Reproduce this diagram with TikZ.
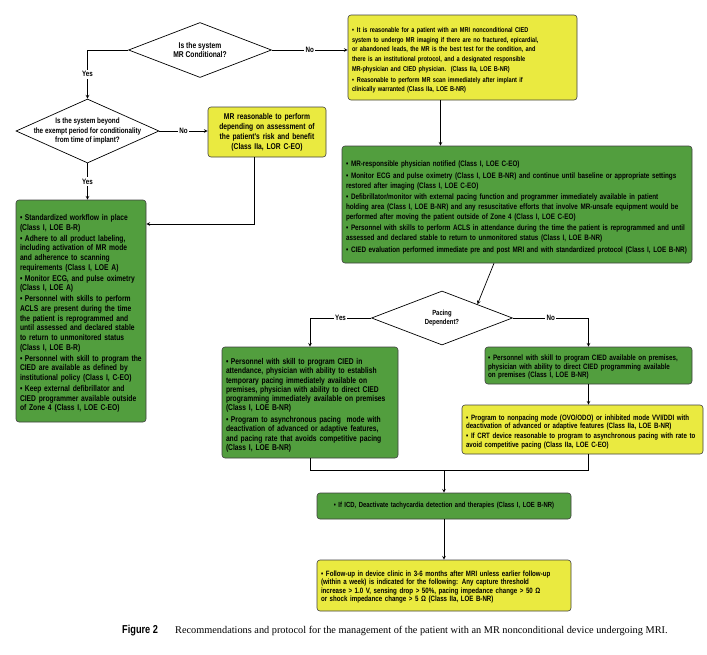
\documentclass[tikz,border=0pt]{standalone}
\usepackage{fontspec}
\setmainfont{Liberation Serif}
\newfontfamily\boxfont{Liberation Sans}[FakeStretch=0.8]
\usetikzlibrary{shapes.geometric}
\definecolor{mrgreen}{RGB}{82,158,62}
\definecolor{mryellow}{RGB}{234,234,64}
\newcommand{\bl}{\par\hangindent=5pt\hangafter=1\noindent\makebox[5pt][l]{\textbullet}}
\newcommand{\bxfont}[3]{\boxfont\bfseries\fontsize{#1}{#2}\selectfont\setlength{\parskip}{#3}\relax}
\tikzset{
  box/.style={draw=black!75, line width=0.6pt, rounded corners=3pt, inner xsep=4pt, inner ysep=2pt,
    align=left, font=\bxfont{8.2}{9.4}{1.4pt}},
  gbox/.style={box, fill=mrgreen},
  ybox/.style={box, fill=mryellow},
  ask/.style={diamond, draw, line width=0.7pt, fill=white, inner sep=0pt},
  asktext/.style={align=center, inner sep=0pt, font=\boxfont\bfseries\fontsize{#1}{9.4}\selectfont},
  lbl/.style={fill=white, inner sep=1.5pt, font=\boxfont\bfseries\fontsize{7.8}{8}\selectfont},
  arr/.style={->, >=stealth, line width=0.7pt}
}
\begin{document}
\begin{tikzpicture}[x=1pt,y=-1pt]
\path[use as bounding box] (0,0) rectangle (707,654);

% decisions
\node[ask, minimum width=143pt, minimum height=55pt,
  label={[asktext=8.4]center:Is the system\\MR Conditional?}] (cond) at (200,50) {};
\node[ask, minimum width=143pt, minimum height=64pt,
  label={[asktext=7.9]center:Is the system beyond\\the exempt period for conditionality\\from time of implant?}] (exempt) at (87.5,131) {};
\node[ask, minimum width=141pt, minimum height=54pt,
  label={[asktext=7.4]center:Pacing\\Dependent?}] (pacing) at (442,318) {};

% recommendation boxes
\node[ybox, text width=221pt, minimum height=85pt, font=\bxfont{7.0}{9.6}{1.4pt}] (noncond) at (462.5,57.5) {%
\bl It is reasonable for a patient with an MRI nonconditional CIED\\
system to undergo MR imaging if there are no fractured, epicardial,\\
or abandoned leads, the MR is the best test for the condition, and\\
there is an institutional protocol, and a designated responsible\\
MR-physician and CIED physician.\ \ (Class IIa, LOE B-NR)
\bl Reasonable to perform MR scan immediately after implant if\\
clinically warranted (Class IIa, LOE B-NR)};

\node[ybox, text width=110pt, minimum height=50pt, align=center, font=\bxfont{8.4}{10}{0pt}] (risk) at (267,132) {%
MR reasonable to perform\\depending on assessment of\\the patient's risk and benefit\\(Class IIa, LOR C-EO)};

\node[gbox, text width=122pt, minimum height=222pt, font=\bxfont{8.4}{9.7}{1.2pt}] (cond yes) at (81,311) {%
\bl Standardized workflow in place\\(Class I, LOE B-R)
\bl Adhere to all product labeling,\\including activation of MR mode\\and adherence to scanning\\requirements (Class I, LOE A)
\bl Monitor ECG, and pulse oximetry\\(Class I, LOE A)
\bl Personnel with skills to perform\\ACLS are present during the time\\the patient is reprogrammed and\\until assessed and declared stable\\to return to unmonitored status\\(Class I, LOE B-R)
\bl Personnel with skill to program the\\CIED are available as defined by\\institutional policy (Class I, C-EO)
\bl Keep external defibrillator and\\CIED programmer available outside\\of Zone 4 (Class I, LOE C-EO)};

\node[gbox, text width=342pt, minimum height=117pt, font=\bxfont{7.9}{9.8}{1.7pt}] (setup) at (517,204.5) {%
\bl MR-responsible physician notified (Class I, LOE C-EO)
\bl Monitor ECG and pulse oximetry (Class I, LOE B-NR) and continue until baseline or appropriate settings\\restored after imaging (Class I, LOE C-EO)
\bl Defibrillator/monitor with external pacing function and programmer immediately available in patient\\holding area (Class I, LOE B-NR) and any resuscitative efforts that involve MR-unsafe equipment would be\\performed after moving the patient outside of Zone 4 (Class I, LOE C-EO)
\bl Personnel with skills to perform ACLS in attendance during the time the patient is reprogrammed and until\\assessed and declared stable to return to unmonitored status (Class I, LOE B-NR)
\bl CIED evaluation performed immediate pre and post MRI and with standardized protocol (Class I, LOE B-NR)};

\node[gbox, text width=168pt, minimum height=111pt, font=\bxfont{8.4}{9.3}{2.3pt}] (dep) at (310,402.5) {%
\bl Personnel with skill to program CIED in\\attendance, physician with ability to establish\\temporary pacing immediately available on\\premises, physician with ability to direct CIED\\programming immediately available on premises\\(Class I, LOE B-NR)
\bl Program to asynchronous pacing\ \ mode with\\deactivation of advanced or adaptive features,\\and pacing rate that avoids competitive pacing\\(Class I, LOE B-NR)};

\node[gbox, text width=201pt, inner xsep=3pt, minimum height=37pt, font=\bxfont{7.8}{8.8}{0pt}] (nodep) at (588.5,365.5) {%
\bl Personnel with skill to program CIED available on premises,\\physician with ability to direct CIED programming available\\on premises (Class I, LOE B-NR)};

\node[ybox, text width=233pt, minimum height=49pt, font=\bxfont{7.7}{8.6}{1.5pt}] (prog) at (582.5,429.5) {%
\bl Program to nonpacing mode (OVO/ODO) or inhibited mode VVI/DDI with\\deactivation of advanced or adaptive features (Class IIa, LOE B-NR)
\bl If CRT device reasonable to program to asynchronous pacing with rate to\\avoid competitive pacing (Class IIa, LOE C-EO)};

\node[gbox, text width=246pt, minimum height=26pt, align=center, font=\bxfont{7.4}{9}{0pt}] (icd) at (444,506) {%
\textbullet\ If ICD, Deactivate tachycardia detection and therapies (Class I, LOE B-NR)};

\node[ybox, text width=246pt, minimum height=51pt, font=\bxfont{7.7}{8.6}{0pt}] (follow) at (444,585.5) {%
\bl Follow-up in device clinic in 3-6 months after MRI unless earlier follow-up\\(within a week) is indicated for the following: Any capture threshold\\increase > 1.0 V, sensing drop > 50\%, pacing impedance change > 50 Ω\\or shock impedance change > 5 Ω (Class IIa, LOE B-NR)};

% connectors
\draw[arr] (cond.west) -| (exempt.north) node[lbl, pos=0.75] {Yes};
\draw[arr] (cond.east) -- (cond.east -| noncond.west) node[lbl, midway] {No};
\draw[arr] ([xshift=-22pt]noncond.south) -- ([xshift=-22pt]noncond.south |- setup.north);
\draw[arr] (exempt.east) -- (exempt.east -| risk.west) node[lbl, midway] {No};
\draw[arr] (exempt.south) -- (exempt.south |- cond yes.north) node[lbl, midway] {Yes};
\draw[arr] ([xshift=-13pt]risk.south) |- ([yshift=87pt]cond yes.east);
\draw[arr] ([xshift=-23pt]setup.south) -- (pacing.north east);
\draw[arr] (pacing.west) -| (dep.north) node[lbl, pos=0.25] {Yes};
\draw[arr] (pacing.east) -| (nodep.north) node[lbl, pos=0.25] {No};
\draw[arr] (nodep.south) -- (nodep.south |- prog.north);
\coordinate (merge) at (444,470);
\draw[line width=0.7pt] (dep.south) |- (merge);
\draw[line width=0.7pt] ([xshift=6pt]prog.south) |- (merge);
\draw[arr] (merge) -- (icd.north);
\draw[arr] (icd.south) -- (follow.north);

% caption
\node[anchor=base west, inner sep=0pt, font=\boxfont\bfseries\fontsize{11.5}{12}\selectfont] (fig) at (122,633) {Figure 2};
\node[anchor=base west, inner sep=0pt, font=\fontsize{10.3}{12}\selectfont] (caption) at (175,633) {Recommendations and protocol for the management of the patient with an MR nonconditional device undergoing MRI.};
\end{tikzpicture}
\end{document}
